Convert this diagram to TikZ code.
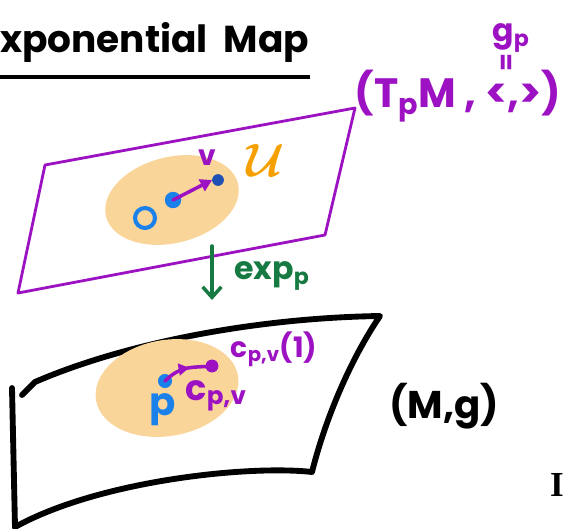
\documentclass[tikz,border=0pt]{standalone}
\usepackage{fontspec}
\usepackage{amsmath,amssymb,bm}
\setmainfont{Poppins}
\newfontfamily\serifhand{Liberation Serif}
\usetikzlibrary{arrows.meta,decorations.markings}
\definecolor{planePurple}{HTML}{9C12C2}
\definecolor{blobOrange} {HTML}{FAD59A}
\definecolor{setOrange}  {HTML}{F5A000}
\definecolor{ptBlue}     {HTML}{1A80EA}
\definecolor{tipBlue}    {HTML}{1F50B4}
\definecolor{expGreen}   {HTML}{167A42}
\tikzset{
  hand/.style={inner sep=0pt,font=\bfseries\fontsize{#1}{#1}\selectfont},
  hand/.default=24,
  plane/.style={draw=planePurple,line width=2.4pt,line join=round},
  surface/.style={draw=black,line width=5pt,line cap=round,line join=round},
  blob/.style={fill=blobOrange},
  dot/.style={circle,inner sep=0pt,minimum size=#1,outer sep=0pt},
  vec/.style={draw=planePurple,line width=3pt,line cap=round},
  midarrow/.style={postaction={decorate},decoration={markings,
    mark=at position 0.55 with {\arrow{Triangle[length=9pt,width=10pt]}}}},
}

\begin{document}
\begin{tikzpicture}[x=0.03cm,y=-0.03cm]
\useasboundingbox (0,0) rectangle (566,528);

% title
\node[hand=32,anchor=base west] (title) at (0,52) {xponential\ \ Map};
\draw[line width=2.6pt] (0,77) -- (310,77);

% tangent space
\draw[plane] (45,165) -- (355,108) -- (325,235) -- (18,293) -- cycle;
\fill[blob,rotate around={14:(172,200)}] (172,200) ellipse (68 and 43);

\node[hand=35,text=planePurple] (tpm) at (458,96) {(T\textsubscript{p}M , <,>)};
\node[hand=27,text=planePurple] (gp)  at (511,38) {g\textsubscript{p}};
\node[hand=22,text=planePurple,rotate=90] (eq) at (508,63) {=};

\node[dot=17pt,draw=ptBlue,line width=3.5pt] (zero) at (145,218) {};
\node[dot=14pt,fill=ptBlue] (o)   at (173,200) {};
\node[dot=10pt,fill=tipBlue] (tip) at (218,180) {};
\draw[vec,-{Triangle[length=10pt,width=11pt]}] (o.center) -- (tip.west);
\node[hand=24,text=planePurple] (v) at (207,158) {v};
\node[text=setOrange,inner sep=0pt,font=\Huge] (U) at (266,160)
  {\scalebox{1.6}{$\bm{\mathcal{U}}$}};

% exponential map
\coordinate (expTop) at (212,246);
\coordinate (expBot) at (212,300);
\draw[draw=expGreen,line width=3pt,line cap=round,
  -{Straight Barb[length=9pt,width=16pt]}] (expTop) -- (expBot);
\node[hand=27,text=expGreen,anchor=west] (exp) at (234,276) {exp\textsubscript{p}};

% manifold
\draw[surface] (22,395) -- (35,382) .. controls (120,345) and (250,318) .. (380,316)
  .. controls (350,360) and (325,420) .. (312,472)
  .. controls (250,465) and (100,480) .. (15,527);
\draw[surface] (12,388) -- (15,527);
\fill[blob,rotate around={10:(167,388)}] (167,388) ellipse (72 and 48);

\node[dot=12pt,fill=ptBlue]      (p)    at (165,381) {};
\node[dot=11pt,fill=planePurple] (cend) at (212,366) {};
\draw[vec,midarrow] (p.center) .. controls (182,364) and (195,368) .. (cend.center);
\node[hand=33,text=ptBlue] (plab) at (163,410) {p};
\node[hand=24,text=planePurple] (c1) at (274,349) {c\textsubscript{p,v}(1)};
\node[hand=30,text=planePurple] (c)  at (216,396) {c\textsubscript{p,v}};

\node[hand=33] (mg) at (444,406) {(M,g)};
\node[inner sep=0pt,font=\serifhand\bfseries\fontsize{30}{30}\selectfont] (I) at (557,485) {I};

\end{tikzpicture}
\end{document}
